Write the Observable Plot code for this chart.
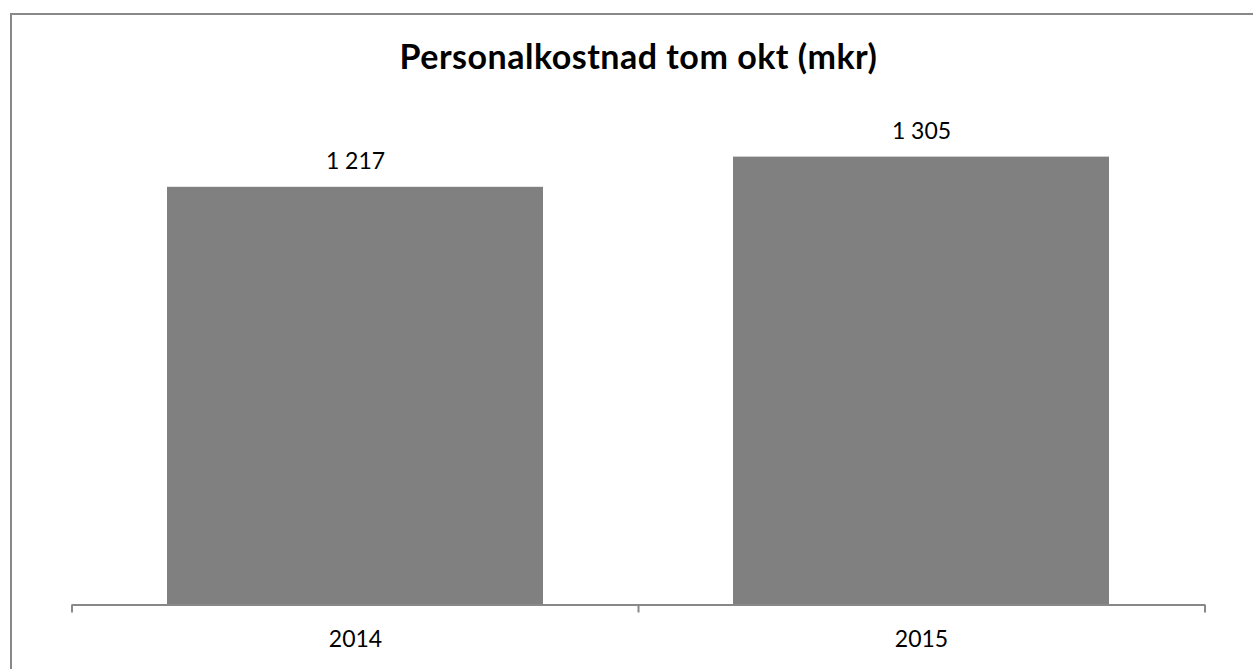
<!DOCTYPE html>
<html>
<head>
<meta charset="utf-8">
<script src="https://cdn.jsdelivr.net/npm/d3@7"></script>
<script src="https://cdn.jsdelivr.net/npm/@observablehq/plot@0.6"></script>
<style>
  html, body { margin: 0; padding: 0; background: #fff; }
  body { width: 1253px; height: 669px; overflow: hidden; position: relative; font-family: Lato, "Open Sans", sans-serif; }
  #frame { position: absolute; left: 10px; top: 13px; right: -20px; bottom: -20px; border-top: 2px solid #888; border-left: 2px solid #888; pointer-events: none; }
  #title { margin-left: 72px; width: 1133px; height: 110px; box-sizing: border-box; padding-top: 39px; text-align: center; font-weight: bold; font-size: 34px; line-height: 34px; letter-spacing: 0.5px; color: #000; white-space: nowrap; }
</style>
</head>
<body>
<div id="frame"></div>
<div id="title">Personalkostnad tom okt (mkr)</div>
<div id="chart"></div>
<script>
const years = ["2014", "2015"];
const values = [1217, 1305];

const data = years.map((year, i) => ({year, value: values[i]}));
const fmt = d3.formatLocale({decimal: ",", thousands: " ", grouping: [3], currency: ["", " kr"]}).format(",d");

const boundaryTicks = (index, scales, vals, dims) => {
  const g = d3.create("svg:g").attr("stroke", "#888").attr("stroke-width", 2);
  const left = dims.marginLeft, right = dims.width - dims.marginRight;
  const y0 = scales.y(0);
  const n = years.length;
  for (let i = 0; i <= n; i++) {
    const x = left + i * (right - left) / n;
    g.append("line").attr("x1", x).attr("x2", x).attr("y1", y0).attr("y2", y0 + 8);
  }
  return g.node();
};

const chart = Plot.plot({
  width: 1253,
  height: 559,
  marginLeft: 72,
  marginRight: 48,
  marginTop: 14,
  marginBottom: 64.5,
  style: {background: "none", fontFamily: "Lato, 'Open Sans', sans-serif", color: "#000"},
  x: {domain: years, paddingInner: 0.335, paddingOuter: 0.1675, label: null},
  y: {domain: [0, 1400], axis: null},
  marks: [
    Plot.barY(data, {x: "year", y: "value", fill: "#808080"}),
    Plot.ruleY([0], {stroke: "#888", strokeWidth: 2}),
    boundaryTicks,
    Plot.text(data, {x: "year", y: "value", text: d => fmt(d.value), lineAnchor: "bottom", dy: -18, fontSize: 23, fill: "#000"}),
    Plot.axisX({tickSize: 0, tickPadding: 26, fontSize: 23, label: null})
  ]
});
document.getElementById("chart").appendChild(chart);
</script>
</body>
</html>
